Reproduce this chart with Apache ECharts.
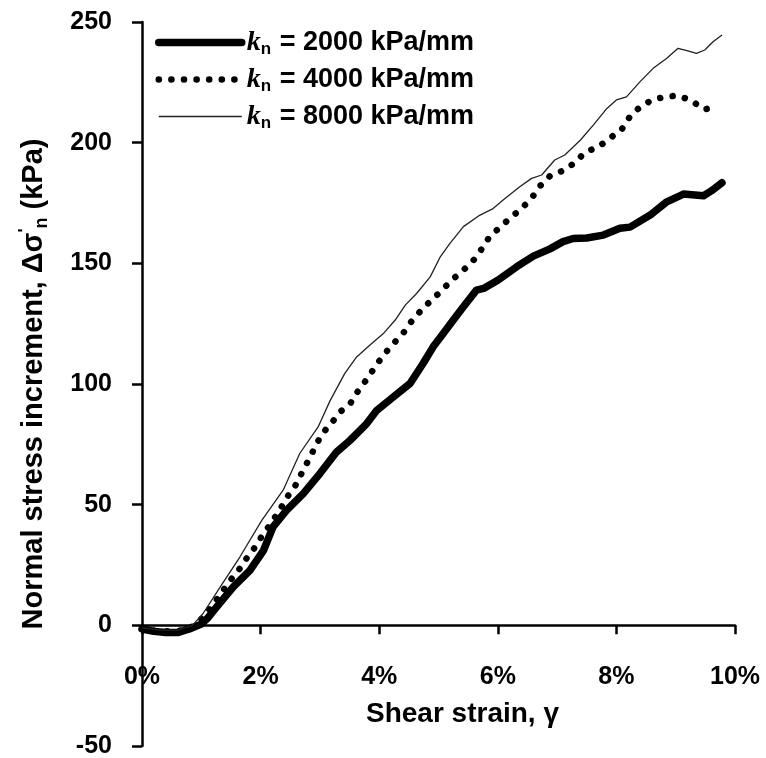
<!DOCTYPE html>
<html>
<head>
<meta charset="utf-8">
<script src="https://cdn.jsdelivr.net/npm/echarts@6/dist/echarts.min.js"></script>
<style>
html,body{margin:0;padding:0;background:#fff;}
#chart{width:766px;height:758px;}
</style>
</head>
<body>
<div id="chart"></div>
<script>
// Shear strain (%) and normal stress increment (kPa)
const seriesNames = ['kn = 2000 kPa/mm', 'kn = 4000 kPa/mm', 'kn = 8000 kPa/mm'];
const legendValues = ['2000', '4000', '8000'];
const xTicks = [0, 2, 4, 6, 8, 10];
const yTicks = [-50, 0, 50, 100, 150, 200, 250];

const kn2000 = [
  [0, -1.5], [0.2, -2.5], [0.4, -3], [0.6, -3], [0.8, -1.5], [1.0, 0.5], [1.1, 2.8],
  [1.26, 7.6], [1.54, 15.9], [1.82, 22.8], [2.05, 31.1], [2.21, 40.8], [2.44, 47.7],
  [2.72, 54.6], [3.0, 62.9], [3.28, 71.8], [3.51, 76.7], [3.79, 83.6], [3.96, 89.1],
  [4.24, 94.7], [4.52, 100.2], [4.74, 108.5], [4.91, 115.4], [5.08, 120.9], [5.25, 126.5],
  [5.42, 132], [5.64, 138.9], [5.76, 139.6], [6.0, 143], [6.32, 148.6], [6.6, 153],
  [6.88, 156], [7.1, 159], [7.27, 160.3], [7.5, 160.5], [7.78, 161.7], [8.06, 164.5],
  [8.23, 165], [8.57, 170], [8.85, 175.5], [9.13, 178.7], [9.47, 178], [9.6, 180], [9.78, 183.4]
];
const kn4000 = [
  [0, -1.5], [0.3, -2.5], [0.6, -2.5], [0.85, -0.5], [1.03, 3.2], [1.19, 8.3], [1.33, 13.1],
  [1.48, 18.4], [1.62, 22.5], [1.77, 28], [1.91, 32.5], [2.04, 37.7], [2.18, 42.4],
  [2.32, 47.7], [2.44, 52.9], [2.58, 57.6], [2.69, 62.9], [2.8, 68.1], [2.92, 73.9],
  [3.03, 79.2], [3.19, 83.6], [3.34, 88.4], [3.52, 92.2], [3.65, 97.4], [3.79, 101.9],
  [3.93, 107.1], [4.07, 111.9], [4.23, 116.5], [4.4, 120.9], [4.54, 125.8], [4.7, 130.3],
  [4.87, 134.5], [5.05, 138.6], [5.22, 143], [5.41, 146.9], [5.59, 151.3], [5.73, 156],
  [5.86, 161], [6.04, 165], [6.22, 169], [6.4, 172.7], [6.57, 177], [6.71, 182],
  [6.88, 186.2], [7.1, 188.4], [7.3, 191.7], [7.47, 196], [7.7, 198.3], [7.89, 201.8],
  [8.09, 205.5], [8.22, 210.5], [8.39, 214.6], [8.6, 217.7], [8.82, 219], [9.04, 219.5],
  [9.27, 217.4], [9.47, 213.8], [9.69, 214.6]
];
const kn8000 = [
  [0, -1], [0.3, -2], [0.6, -2], [0.85, 0], [1.03, 4.9], [1.32, 15.9], [1.65, 28.3],
  [2.02, 43.5], [2.38, 56], [2.66, 71.2], [2.97, 82.2], [3.17, 93], [3.42, 104.4],
  [3.62, 111.2], [3.84, 116.1], [4.07, 120.9], [4.27, 126.5], [4.44, 132.7], [4.63, 137.5],
  [4.86, 144.4], [5.03, 152.7], [5.19, 158.2], [5.42, 165.2], [5.7, 170], [5.92, 172.7],
  [6.09, 176.2], [6.37, 181.7], [6.57, 185.2], [6.74, 186.6], [6.96, 192.8], [7.13, 194.9],
  [7.39, 201], [7.61, 207.3], [7.84, 214.2], [8.0, 217.7], [8.17, 219], [8.4, 225.3],
  [8.62, 230.8], [8.85, 235], [9.04, 239.1], [9.19, 238.1], [9.35, 237], [9.49, 238.4],
  [9.63, 241.8], [9.78, 244.6]
];

const FONT = "'Liberation Sans', Arial, sans-serif";
const chart = echarts.init(document.getElementById('chart'), null, {renderer: 'canvas'});

const thickStyle = {color: '#000', width: 7.5, cap: 'round', join: 'round'};
const dotStyle = {color: '#000', width: 6.5, type: [0.1, 12.5], cap: 'round', join: 'round'};
const thinStyle = {color: '#222', width: 1.3};

const option = {
  animation: false,
  backgroundColor: '#fff',
  grid: {left: 142, right: 31, top: 22, bottom: 12, containLabel: false, outerBoundsMode: 'none'},
  legend: {
    orient: 'vertical',
    left: 155,
    top: 27,
    padding: 0,
    itemWidth: 83,
    itemHeight: 14,
    itemGap: 6,
    itemStyle: {opacity: 0},
    data: [
      {name: seriesNames[0], lineStyle: thickStyle},
      {name: seriesNames[1], lineStyle: dotStyle},
      {name: seriesNames[2], lineStyle: thinStyle}
    ],
    formatter: function (name) {
      const i = seriesNames.indexOf(name);
      return '{k|k}{s|n}{t| = ' + legendValues[i] + ' kPa/mm}';
    },
    textStyle: {
      fontFamily: FONT,
      lineHeight: 31,
      rich: {
        k: {fontSize: 28, fontStyle: 'italic', fontWeight: 'bold', fontFamily: "'Liberation Serif', serif", color: '#000', verticalAlign: 'middle', lineHeight: 31},
        s: {fontSize: 17, fontWeight: 'bold', fontFamily: FONT, color: '#000', verticalAlign: 'bottom', lineHeight: 31, padding: [0, 1, 0, 0]},
        t: {fontSize: 27, fontWeight: 'bold', fontFamily: FONT, color: '#000', verticalAlign: 'middle', lineHeight: 31}
      }
    }
  },
  xAxis: {
    type: 'value',
    min: 0,
    max: 10,
    interval: 2,
    name: 'Shear strain, γ',
    nameLocation: 'middle',
    nameGap: -46,
    nameTextStyle: {fontFamily: FONT, fontSize: 28, fontWeight: 'bold', color: '#000', padding: [0, 0, 0, 48]},
    axisLine: {show: true, onZero: true, lineStyle: {color: '#000', width: 2.5}},
    axisTick: {show: true, inside: false, length: 9, lineStyle: {color: '#000', width: 2.5}},
    axisLabel: {formatter: '{value}%', fontFamily: FONT, fontSize: 25, fontWeight: 'bold', color: '#000', margin: -81},
    splitLine: {show: false}
  },
  yAxis: {
    type: 'value',
    min: -50,
    max: 250,
    interval: 50,
    name: '{a|Normal stress increment, Δσ}{p|\'}{s|n}{a| (kPa)}',
    nameLocation: 'middle',
    nameGap: 91,
    nameRotate: 90,
    nameTextStyle: {
      fontFamily: FONT, color: '#000',
      rich: {
        a: {fontSize: 29, fontWeight: 'bold', fontFamily: FONT, color: '#000', verticalAlign: 'middle', lineHeight: 34},
        p: {fontSize: 17, fontWeight: 'bold', fontFamily: FONT, color: '#000', verticalAlign: 'top', lineHeight: 34},
        s: {fontSize: 18, fontWeight: 'bold', fontFamily: FONT, color: '#000', verticalAlign: 'bottom', lineHeight: 34}
      }
    },
    axisLine: {show: true, onZero: false, lineStyle: {color: '#000', width: 2.5}},
    axisTick: {show: true, inside: false, length: 10, lineStyle: {color: '#000', width: 2.5}},
    axisLabel: {fontFamily: FONT, fontSize: 25, fontWeight: 'bold', color: '#000', margin: 30},
    splitLine: {show: false}
  },
  series: [
    {name: seriesNames[0], type: 'line', data: kn2000, showSymbol: false, symbol: 'none',
     itemStyle: {color: '#000'}, lineStyle: thickStyle, z: 3},
    {name: seriesNames[1], type: 'line', data: kn4000, showSymbol: false, symbol: 'none',
     itemStyle: {color: '#000'}, lineStyle: dotStyle, z: 4},
    {name: seriesNames[2], type: 'line', data: kn8000, showSymbol: false, symbol: 'none',
     itemStyle: {color: '#222'}, lineStyle: thinStyle, z: 5}
  ]
};
chart.setOption(option);
</script>
</body>
</html>
